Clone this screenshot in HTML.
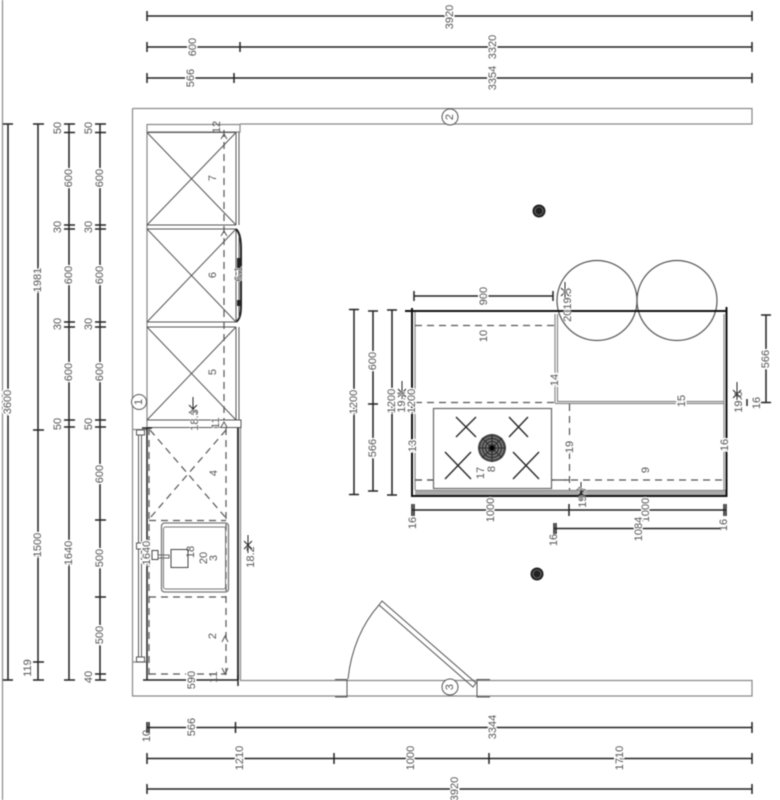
<!DOCTYPE html>
<html><head><meta charset="utf-8"><style>
html,body{margin:0;padding:0;background:#fff}
svg{display:block;filter:blur(.4px)}
text{font-family:"Liberation Sans",sans-serif;font-size:11px;fill:#555;text-anchor:middle;dominant-baseline:central;paint-order:stroke;stroke:#fff;stroke-width:3px}
.n{stroke:none}
.d{stroke:#222;stroke-width:1.5;fill:none}
.k{stroke:#111;stroke-width:2;fill:none}
.g{stroke:#888;stroke-width:1.2;fill:none}
.m{stroke:#555;stroke-width:1;fill:none}
.h{stroke:#555;stroke-width:1.2;fill:none;stroke-dasharray:7 5}
</style></head><body>
<svg width="780" height="800" viewBox="0 0 780 800" xmlns="http://www.w3.org/2000/svg">
<!-- page edge -->
<path class="g" d="M2.500 0V800M2.500 680H12"/>
<!-- walls -->
<path class="g" stroke-width="1.500" d="M132.500 108.500H752V124H240M132.500 108.500V696H752V680.500H240M147 124V430M132.500 429.500H147M132.500 662H147"/>
<path class="g" d="M147 124.500H240V132H147M240 124V132"/>
<!-- tall cabinets -->
<path class="m" d="M147 132.500L236 225M236 132.500L147 225M147 229L236 322M236 229L147 322M147 327L236 420M236 327L147 420"/>
<path class="m" stroke-width="1.300" d="M147 132.500H236M147 225H236M147 229H236M147 322H236M147 327H236M147 420H236M236 132V225M239 132V225M236 327V420M239 327V420M236 229V322"/>
<path class="m" d="M147 427.500H241V420H236M241 420V427"/>
<path class="h" d="M224 130V420"/>
<path class="m" d="M221 139L224 134L227 139M221 236L224 231L227 236M221 427L224 422L227 427"/>
<path d="M236 229C240 233 241 240 241 250V305C241 314 240 319 236 322" fill="none" stroke="#222" stroke-width="2"/>
<path class="m" d="M236 232V322M239 236V318"/>
<rect x="237" y="258" width="3" height="10" fill="#222"/>
<rect x="237" y="300" width="3" height="6" fill="#222"/>
<!-- base units -->
<path class="h" d="M226 428V675M149 520.500H226M149 597H226M149 674H226"/>
<path class="h" d="M149 428V680" stroke="#888" stroke-width="2"/>
<path class="h" stroke-dasharray="9 9" d="M150 430L226 518M226 430L150 518"/>
<path stroke="#333" stroke-width="2" fill="none" d="M238 428V680"/>
<path class="g" d="M240.500 428V680"/>
<path class="d" d="M147 428V545M147 562V680M142 428H152"/>
<path class="m" d="M222 642L225 636L228 642"/>
<path class="m" d="M222 668L225 674L228 668"/>
<!-- sink -->
<rect x="161.500" y="523" width="67" height="69" rx="3" fill="none" stroke="#777" stroke-width="1.300"/>
<rect x="163.500" y="527" width="62" height="62" rx="2" fill="none" stroke="#777" stroke-width="1"/>
<rect x="171" y="549.500" width="17" height="18" fill="none" stroke="#444"/>
<rect x="152" y="550.500" width="6" height="9" fill="none" stroke="#444"/>
<rect x="158" y="555" width="11" height="3" fill="none" stroke="#666"/>
<!-- window -->
<path class="m" d="M138.500 435V657M141.500 435V657"/>
<rect x="136.500" y="430" width="8" height="5" fill="none" stroke="#555"/>
<rect x="136.500" y="657" width="8" height="5" fill="none" stroke="#555"/>
<rect x="136.500" y="543" width="8" height="6" fill="#fff" stroke="#555"/>
<!-- door -->
<path class="m" d="M335 679.500H347V697H335M347 679.500V697M490 679.500H477V697H490M477 679.500V697"/>
<path class="m" d="M379 605L382 601L476 683L473 687Z"/>
<path class="m" d="M348 679C351 650 362 624 379 605"/>
<!-- circles -->
<circle cx="139" cy="402" r="7.500" fill="#fff" stroke="#555"/>
<circle cx="450" cy="117" r="8" fill="#fff" stroke="#555"/>
<circle cx="450" cy="687" r="8" fill="#fff" stroke="#555"/>
<circle cx="597" cy="300.500" r="40" fill="none" stroke="#555" stroke-width="1.200"/>
<circle cx="677" cy="300.500" r="40" fill="none" stroke="#555" stroke-width="1.200"/>
<!-- lights -->
<g fill="#222"><circle cx="539" cy="211" r="6.500"/><circle cx="537" cy="574" r="6.500"/></g>
<g fill="none" stroke="#999" stroke-width=".6"><circle cx="539" cy="211" r="4"/><circle cx="537" cy="574" r="4"/></g>
<!-- island -->
<path class="g" d="M415 311V490M555 314V403M557.500 314V401M557 401.500H724M555 403.500H724M724 314V490M415 490.500H726M415 493H726"/>
<rect x="415" y="491" width="311" height="4" fill="#aaa"/>
<path class="k" d="M412 308V496H414M405 311H726M726.500 307V496H414"/>
<path class="h" d="M415 325.500H555M415 402.500H555M415 480H724M569.500 404V490"/>
<rect x="433.500" y="408.500" width="118" height="80" fill="#fff" stroke="#666" stroke-width="1.200"/>
<path class="h" d="M415 480H433M552 480H570" />
<path stroke="#222" stroke-width="1.300" fill="none" d="M456 417L476 437M476 417L456 437M509 437L528 417M509 417L528 437M445 479L471 452M445 452L471 479M513 452L539 479M513 479L539 452"/>
<circle cx="492" cy="448" r="14" fill="#444"/>
<g fill="none" stroke="#bbb" stroke-width=".6"><circle cx="492" cy="448" r="11"/><circle cx="492" cy="448" r="8"/><circle cx="492" cy="448" r="5"/></g>
<path stroke="#222" stroke-width=".8" d="M478 448H506M492 434V462M482 438L502 458M502 438L482 458"/>
<circle cx="492" cy="448" r="2.500" fill="#000"/>
<!-- left dimensions -->
<path class="d" d="M8 124V680M3 124H13M3 680H13"/>
<path class="d" d="M38 124V680M33 124H44M33 430H44M33 662H44M33 680H44"/>
<path class="d" d="M69 124V680M64 124H75M64 132.500H75M64 225H75M64 229H75M64 322H75M64 327H75M64 420H75M64 427H75M64 680H75"/>
<path class="d" d="M100 124V680M95 124H106M95 132.500H106M95 225H106M95 229H106M95 322H106M95 327H106M95 420H106M95 427H106M95 520H106M95 597H106M95 674H106M95 680H106"/>
<!-- top dimensions -->
<path class="d" d="M147 16H752M147 11V21M752 11V21"/>
<path class="d" d="M147 47H752M147 42V52M240 42V52M752 42V52"/>
<path class="d" d="M147 78H752M147 73V83M234 73V83M752 73V83"/>
<!-- bottom dimensions -->
<path class="d" d="M147 727.500H752M147 722V733M149 722V733M235.500 722V733M752 722V733"/>
<path class="d" d="M147 758.500H752M147 753V764M334 753V764M489 753V764M752 753V764"/>
<path class="d" d="M147 789H752M147 784V794M752 784V794"/>
<path class="d" d="M147 680H238M143 680H152M238 675V686"/>
<!-- island dimensions -->
<path class="d" d="M414 296H553M414 291V301M553 291V301"/>
<path class="d" d="M354 309V494M349 309.500H359M349 494.500H359"/>
<path class="d" d="M373 311V491M368 311H378M368 404H378M368 491H378"/>
<path class="d" d="M392 310V495M387 310H397M387 495H397"/>
<path class="d" d="M412 510H726M412 504V516M414 504V516M569 504V516M724 504V516M726 504V516"/>
<path class="d" d="M554 528.500H720M554 523V534M556 523V534"/>
<path class="d" d="M766 315V402.500M761 315H771M761 402.500H771"/>
<path class="d" stroke-width="1.500" d="M747 399V406"/>
<!-- section markers -->
<path stroke="#222" fill="none" d="M193 397V415M189 405L197 413M197 405L189 413M248 535V553M244 541L252 549M252 541L244 549M402 381V399M398 389L406 397M406 389L398 397M565 282V300M561 288L569 296M569 288L561 296M737 382V400M733 390L741 398M741 390L733 398M581 482V500M577 489L585 497M585 489L577 497"/>
<!-- labels -->
<g>
<text transform="rotate(-90 450 17)" x="450" y="17">3920</text>
<text transform="rotate(-90 193 47)" x="193" y="47">600</text>
<text transform="rotate(-90 493 47)" x="493" y="47">3320</text>
<text transform="rotate(-90 191 78)" x="191" y="78">566</text>
<text transform="rotate(-90 493 78)" x="493" y="78">3354</text>
<text transform="rotate(-90 8 402)" x="8" y="402">3600</text>
<text transform="rotate(-90 38 280)" x="38" y="280">1981</text>
<text transform="rotate(-90 38 545)" x="38" y="545">1500</text>
<text class="n" transform="rotate(-90 28 668)" x="28" y="668">119</text>
<text class="n" transform="rotate(-90 58 128)" x="58" y="128">50</text>
<text transform="rotate(-90 69 178)" x="69" y="178">600</text>
<text class="n" transform="rotate(-90 58 227)" x="58" y="227">30</text>
<text transform="rotate(-90 69 275)" x="69" y="275">600</text>
<text class="n" transform="rotate(-90 58 324)" x="58" y="324">30</text>
<text transform="rotate(-90 69 372)" x="69" y="372">600</text>
<text class="n" transform="rotate(-90 58 424)" x="58" y="424">50</text>
<text transform="rotate(-90 69 553)" x="69" y="553">1640</text>
<text class="n" transform="rotate(-90 89 128)" x="89" y="128">50</text>
<text transform="rotate(-90 100 178)" x="100" y="178">600</text>
<text class="n" transform="rotate(-90 89 227)" x="89" y="227">30</text>
<text transform="rotate(-90 100 275)" x="100" y="275">600</text>
<text class="n" transform="rotate(-90 89 324)" x="89" y="324">30</text>
<text transform="rotate(-90 100 372)" x="100" y="372">600</text>
<text class="n" transform="rotate(-90 89 424)" x="89" y="424">50</text>
<text transform="rotate(-90 100 474)" x="100" y="474">600</text>
<text transform="rotate(-90 100 558)" x="100" y="558">500</text>
<text transform="rotate(-90 100 635)" x="100" y="635">500</text>
<text class="n" transform="rotate(-90 89 677)" x="89" y="677">40</text>
<text transform="rotate(-90 192 680)" x="192" y="680">590</text>
<text class="n" transform="rotate(-90 147 736)" x="147" y="736">10</text>
<text transform="rotate(-90 192 727)" x="192" y="727">566</text>
<text transform="rotate(-90 493 727)" x="493" y="727">3344</text>
<text transform="rotate(-90 240 758)" x="240" y="758">1210</text>
<text transform="rotate(-90 411 758)" x="411" y="758">1000</text>
<text transform="rotate(-90 620 758)" x="620" y="758">1710</text>
<text transform="rotate(-90 455 789)" x="455" y="789">3920</text>
<text transform="rotate(-90 147 553)" x="147" y="553">1640</text>
<text class="n" transform="rotate(-90 217 127)" x="217" y="127">12</text>
<text class="n" transform="rotate(-90 213 178)" x="213" y="178">7</text>
<text class="n" transform="rotate(-90 213 275)" x="213" y="275">6</text>
<text transform="rotate(-90 239 274)" x="239" y="274" style="stroke-width:1px">6.1</text>
<text class="n" transform="rotate(-90 213 372)" x="213" y="372">5</text>
<text transform="rotate(-90 195 420)" x="195" y="420" style="stroke-width:1px">18.3</text>
<text transform="rotate(-90 216 423)" x="216" y="423" style="stroke-width:1px">11</text>
<text class="n" transform="rotate(-90 214 473)" x="214" y="473">4</text>
<text class="n" transform="rotate(-90 191 552)" x="191" y="552">18</text>
<text class="n" transform="rotate(-90 204 558)" x="204" y="558">20</text>
<text class="n" transform="rotate(-90 214 558)" x="214" y="558">3</text>
<text class="n" transform="rotate(-90 251 557)" x="251" y="557">18.2</text>
<text class="n" transform="rotate(-90 213 636)" x="213" y="636">2</text>
<text class="n" transform="rotate(-90 214 677)" x="214" y="677">11</text>
<text class="n" transform="rotate(-90 139 402)" x="139" y="402">1</text>
<text class="n" transform="rotate(-90 450 117)" x="450" y="117">2</text>
<text class="n" transform="rotate(-90 450 687)" x="450" y="687">3</text>
<text transform="rotate(-90 484 296)" x="484" y="296">900</text>
<text class="n" transform="rotate(-90 484 336)" x="484" y="336">10</text>
<text transform="rotate(-90 354 402)" x="354" y="402">1200</text>
<text transform="rotate(-90 373 361)" x="373" y="361">600</text>
<text transform="rotate(-90 373 448)" x="373" y="448">566</text>
<text transform="rotate(-90 392 401)" x="392" y="401">1200</text>
<text transform="rotate(-90 402 402)" x="402" y="402" style="stroke-width:1px">19.4</text>
<text transform="rotate(-90 412 401)" x="412" y="401">1200</text>
<text transform="rotate(-90 413 446)" x="413" y="446">13</text>
<text class="n" transform="rotate(-90 481 473)" x="481" y="473">17</text>
<text class="n" transform="rotate(-90 492 469)" x="492" y="469">8</text>
<text transform="rotate(-90 555 380)" x="555" y="380">14</text>
<text transform="rotate(-90 568 305)" x="568" y="305" style="stroke-width:1px">2019.5</text>
<text transform="rotate(-90 570 447)" x="570" y="447">19</text>
<text transform="rotate(-90 583 497)" x="583" y="497" style="stroke-width:1px">19.7</text>
<text transform="rotate(-90 682 401)" x="682" y="401">15</text>
<text transform="rotate(-90 725 445)" x="725" y="445">16</text>
<text class="n" transform="rotate(-90 646 470)" x="646" y="470">9</text>
<text class="n" transform="rotate(-90 739 402)" x="739" y="402">19.6</text>
<text class="n" transform="rotate(-90 757 403)" x="757" y="403">16</text>
<text transform="rotate(-90 766 359)" x="766" y="359">566</text>
<text class="n" transform="rotate(-90 413 523)" x="413" y="523">16</text>
<text transform="rotate(-90 491 510)" x="491" y="510">1000</text>
<text transform="rotate(-90 646 510)" x="646" y="510">1000</text>
<text class="n" transform="rotate(-90 724 525)" x="724" y="525">16</text>
<text transform="rotate(-90 639 529)" x="639" y="529">1084</text>
<text class="n" transform="rotate(-90 554 540)" x="554" y="540">16</text>
</g>
</svg>
</body></html>
